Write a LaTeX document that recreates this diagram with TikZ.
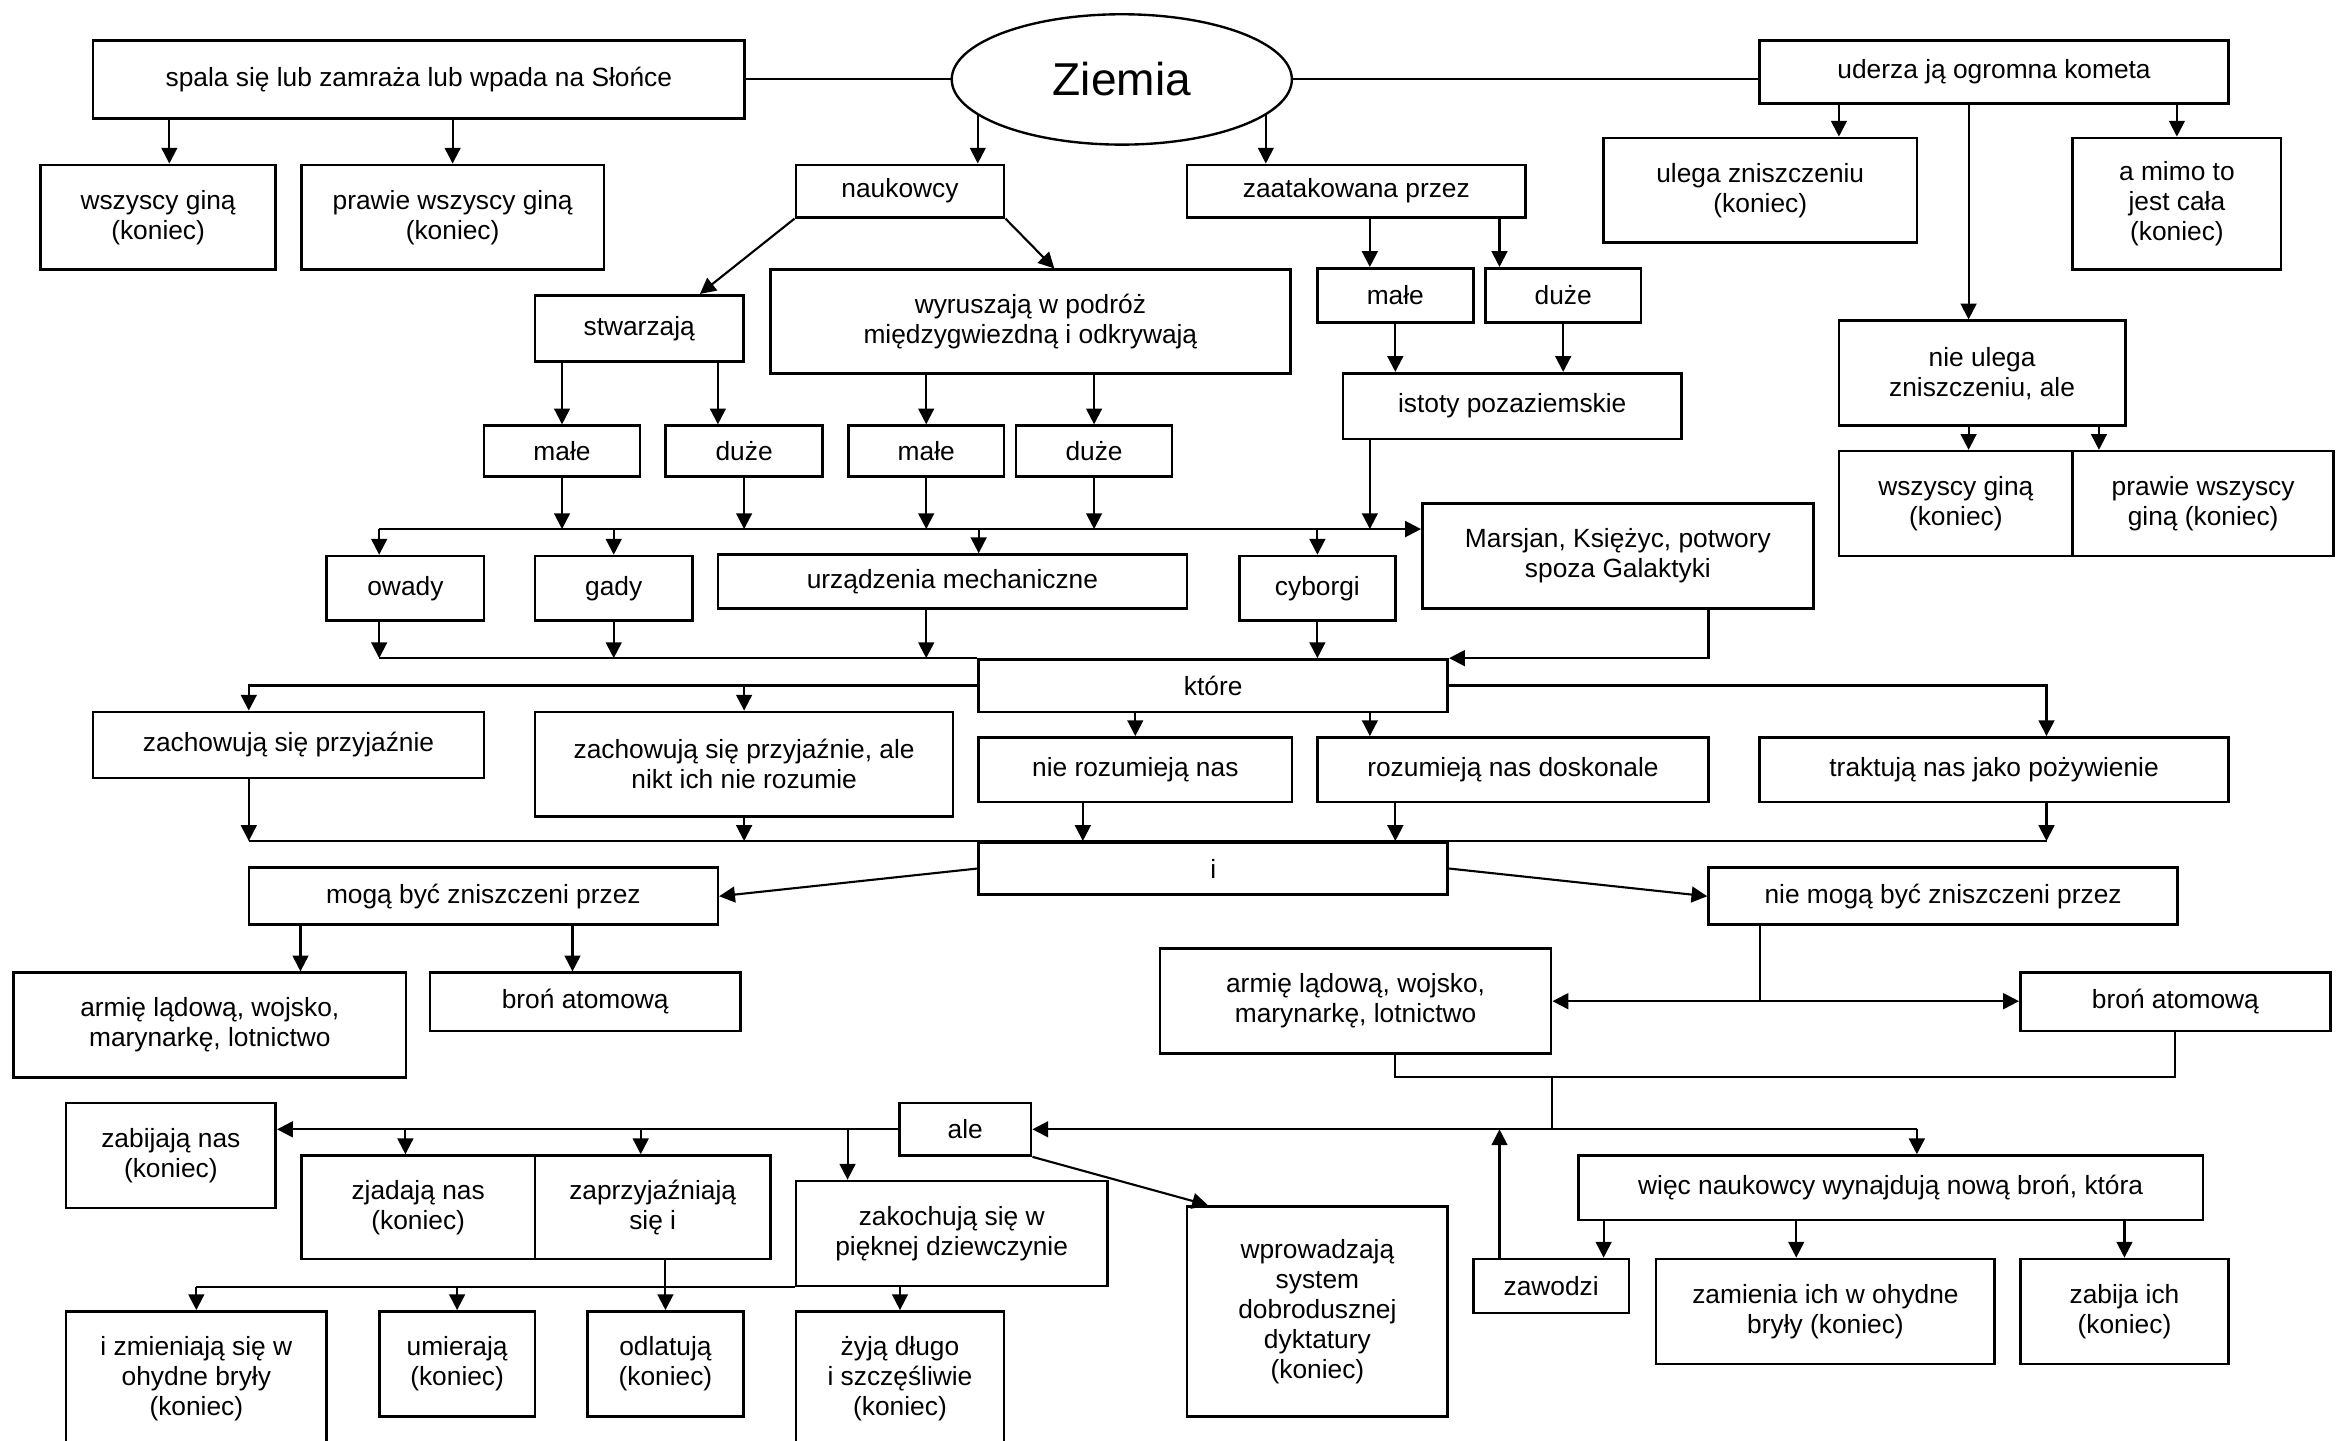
\documentclass[tikz,border=0pt]{standalone}
\usepackage{fontspec}
\setmainfont{Liberation Sans}
\usetikzlibrary{arrows.meta,shapes.geometric}

\begin{document}
\begin{tikzpicture}[x=0.02cm, y=-0.02cm, line width=0.8pt, >={Triangle[length=6pt,width=6pt]},
    every node/.style={font=\fontsize{10}{11.4}\selectfont},
    box/.style={draw, rectangle, line width=1pt, align=center, inner sep=1pt},
    bus/.style={line width=0.9pt}]
  \useasboundingbox (0,0) rectangle (1568,961);
  \clip (0,0) rectangle (1568,961);

  % top row
  \node[draw, ellipse, line width=0.9pt, minimum width=4.54cm, minimum height=1.74cm, font=\fontsize{17.5}{20}\selectfont] (ziemia) at (748.5,53) {Ziemia};
  \node[box, minimum width=8.7cm, minimum height=1.04cm] (spala) at (279.5,53) {spala się lub zamraża lub wpada na Słońce};
  \node[box, minimum width=6.26cm, minimum height=0.84cm] (uderza) at (1330.5,48) {uderza ją ogromna kometa};
  \node[box, minimum width=3.14cm, minimum height=1.4cm] (wszyscyL) at (105.5,145) {wszyscy giną\\(koniec)};
  \node[box, minimum width=4.04cm, minimum height=1.4cm] (prawieL) at (302,145) {prawie wszyscy giną\\(koniec)};
  \node[box, minimum width=2.78cm, minimum height=0.7cm] (naukowcy) at (600.5,127.5) {naukowcy};
  \node[box, minimum width=4.52cm, minimum height=0.7cm] (zaatak) at (905,127.5) {zaatakowana przez};
  \node[box, minimum width=4.18cm, minimum height=1.4cm] (ulega) at (1174.5,127) {ulega zniszczeniu\\(koniec)};
  \node[box, minimum width=2.78cm, minimum height=1.76cm] (mimo) at (1452.5,136) {a mimo to\\jest cała\\(koniec)};

  \node[box, minimum width=2.78cm, minimum height=0.88cm] (stwarzaja) at (426.5,219) {stwarzają};
  \node[box, minimum width=6.94cm, minimum height=1.38cm] (wyruszaja) at (687.5,214.5) {wyruszają w podróż\\międzygwiezdną i odkrywają};
  \node[box, minimum width=2.08cm, minimum height=0.72cm] (maleA) at (931,197) {małe};
  \node[box, minimum width=2.08cm, minimum height=0.72cm] (duzeA) at (1043,197) {duże};
  \node[box, minimum width=4.52cm, minimum height=0.88cm] (istoty) at (1009,271) {istoty pozaziemskie};
  \node[box, minimum width=3.82cm, minimum height=1.4cm] (nieulega) at (1322.5,249) {nie ulega\\zniszczeniu, ale};
  \node[box, minimum width=3.12cm, minimum height=1.4cm] (wszyscyR) at (1305,336) {wszyscy giną\\(koniec)};
  \node[box, minimum width=3.48cm, minimum height=1.4cm] (prawieR) at (1470,336) {prawie wszyscy\\giną (koniec)};

  \node[box, minimum width=2.08cm, minimum height=0.68cm] (maleS) at (375,301) {małe};
  \node[box, minimum width=2.1cm, minimum height=0.68cm] (duzeS) at (496.5,301) {duże};
  \node[box, minimum width=2.08cm, minimum height=0.68cm] (maleW) at (618,301) {małe};
  \node[box, minimum width=2.08cm, minimum height=0.68cm] (duzeW) at (730,301) {duże};

  \node[box, minimum width=2.1cm, minimum height=0.86cm] (owady) at (270.5,392.5) {owady};
  \node[box, minimum width=2.1cm, minimum height=0.86cm] (gady) at (409.5,392.5) {gady};
  \node[box, minimum width=6.26cm, minimum height=0.72cm] (urzadzenia) at (635.5,388) {urządzenia mechaniczne};
  \node[box, minimum width=2.08cm, minimum height=0.86cm] (cyborgi) at (879,392.5) {cyborgi};
  \node[box, minimum width=5.22cm, minimum height=1.4cm] (marsjan) at (1079.5,371) {Marsjan, Księżyc, potwory\\spoza Galaktyki};

  \node[box, minimum width=6.26cm, minimum height=0.7cm] (ktore) at (809.5,457.5) {które};
  \node[box, minimum width=5.22cm, minimum height=0.88cm] (przyjaznie) at (192.5,497) {zachowują się przyjaźnie};
  \node[box, minimum width=5.58cm, minimum height=1.4cm] (przyjaznieAle) at (496.5,510) {zachowują się przyjaźnie, ale\\nikt ich nie rozumie};
  \node[box, minimum width=4.18cm, minimum height=0.86cm] (nierozumieja) at (757.5,513.5) {nie rozumieją nas};
  \node[box, minimum width=5.22cm, minimum height=0.86cm] (rozumieja) at (1009.5,513.5) {rozumieją nas doskonale};
  \node[box, minimum width=6.26cm, minimum height=0.86cm] (traktuja) at (1330.5,513.5) {traktują nas jako pożywienie};

  \node[box, minimum width=6.26cm, minimum height=0.7cm] (iBox) at (809.5,579.5) {i};
  \node[box, minimum width=6.26cm, minimum height=0.76cm] (moga) at (322.5,598) {mogą być zniszczeni przez};
  \node[box, minimum width=6.26cm, minimum height=0.76cm] (niemoga) at (1296.5,598) {nie mogą być zniszczeni przez};
  \node[box, minimum width=5.24cm, minimum height=1.4cm] (armiaL) at (140,684) {armię lądową, wojsko,\\marynarkę, lotnictwo};
  \node[box, minimum width=4.14cm, minimum height=0.78cm] (bronL) at (390.5,668.5) {broń atomową};
  \node[box, minimum width=5.22cm, minimum height=1.4cm] (armiaR) at (904.5,668) {armię lądową, wojsko,\\marynarkę, lotnictwo};
  \node[box, minimum width=4.14cm, minimum height=0.78cm] (bronR) at (1451.5,668.5) {broń atomową};

  \node[box, minimum width=2.8cm, minimum height=1.4cm] (zabijaja) at (114,771) {zabijają nas\\(koniec)};
  \node[box, minimum width=1.76cm, minimum height=0.7cm] (ale) at (644,753.5) {ale};
  \node[box, minimum width=3.12cm, minimum height=1.38cm] (zjadaja) at (279,805.5) {zjadają nas\\(koniec)};
  \node[box, minimum width=3.14cm, minimum height=1.38cm] (zaprzyjaznia) at (435.5,805.5) {zaprzyjaźniają\\się i};
  \node[box, minimum width=4.16cm, minimum height=1.4cm] (zakochuja) at (635,823) {zakochują się w\\pięknej dziewczynie};
  \node[box, minimum width=3.48cm, minimum height=2.8cm] (wprowadzaja) at (879,875) {wprowadzają\\system\\dobrodusznej\\dyktatury\\(koniec)};
  \node[box, minimum width=8.34cm, minimum height=0.86cm] (wiec) at (1261.5,792.5) {więc naukowcy wynajdują nową broń, która};
  \node[box, minimum width=2.08cm, minimum height=0.72cm] (zawodzi) at (1035,858) {zawodzi};
  \node[box, minimum width=4.52cm, minimum height=1.4cm] (zamienia) at (1218,875) {zamienia ich w ohydne\\bryły (koniec)};
  \node[box, minimum width=2.78cm, minimum height=1.4cm] (zabija) at (1417.5,875) {zabija ich\\(koniec)};
  \node[box, minimum width=3.48cm, minimum height=1.8cm] (zmieniaja) at (131,920) {i zmieniają się w\\ohydne bryły\\(koniec)};
  \node[box, minimum width=2.08cm, minimum height=1.4cm] (umieraja) at (305,910) {umierają\\(koniec)};
  \node[box, minimum width=2.08cm, minimum height=1.4cm] (odlatuja) at (444,910) {odlatują\\(koniec)};
  \node[box, minimum width=2.78cm, minimum height=1.8cm] (zyja) at (600.5,920) {żyją długo\\i szczęśliwie\\(koniec)};

  % Ziemia and the first branches
  \draw (spala) -- (ziemia);
  \draw (ziemia.east) -- (ziemia.east -| uderza.west);
  \draw[->] ([xshift=0.15cm]spala.south -| wszyscyL.north) -- ([xshift=0.15cm]wszyscyL.north);
  \draw[->] (spala.south -| prawieL.north) -- (prawieL.north);
  \draw[->] (ziemia.194) -- (ziemia.194 |- naukowcy.north);
  \draw[->] (ziemia.346) -- (ziemia.346 |- zaatak.north);
  \draw[->] (naukowcy.south west) -- ([xshift=0.81cm]stwarzaja.north);
  \draw[->] (naukowcy.south east) -- ([xshift=0.32cm]wyruszaja.north);
  \draw[->] ([xshift=-0.34cm]maleA.north |- zaatak.south) -- ([xshift=-0.34cm]maleA.north);
  \draw[->] ([xshift=-0.85cm]duzeA.north |- zaatak.south) -- ([xshift=-0.85cm]duzeA.north);
  \draw[->] (maleA.south) -- (maleA.south |- istoty.north);
  \draw[->] (duzeA.south) -- (duzeA.south |- istoty.north);
  \draw[->] ([xshift=1.05cm]ulega.north |- uderza.south) -- ([xshift=1.05cm]ulega.north);
  \draw[->] (mimo.north |- uderza.south) -- (mimo.north);
  \draw[->] ([xshift=-0.18cm]nieulega.north |- uderza.south) -- ([xshift=-0.18cm]nieulega.north);
  \draw[->] ([xshift=-0.18cm]nieulega.south) -- ([xshift=-0.18cm]nieulega.south |- wszyscyR.north);
  \draw[->] ([xshift=1.56cm]nieulega.south) -- ([xshift=1.56cm]nieulega.south |- prawieR.north);
  \draw[->] (maleS.north |- stwarzaja.south) -- (maleS.north);
  \draw[->] ([xshift=-0.35cm]duzeS.north |- stwarzaja.south) -- ([xshift=-0.35cm]duzeS.north);
  \draw[->] (maleW.north |- wyruszaja.south) -- (maleW.north);
  \draw[->] (duzeW.north |- wyruszaja.south) -- (duzeW.north);

  % creatures
  \coordinate (busA) at (253,353);
  \draw[bus, ->] (busA) -- (busA -| marsjan.west);
  \draw[->] (maleS.south) -- (maleS.south |- busA);
  \draw[->] (duzeS.south) -- (duzeS.south |- busA);
  \draw[->] (maleW.south) -- (maleW.south |- busA);
  \draw[->] (duzeW.south) -- (duzeW.south |- busA);
  \draw[->] ([xshift=-1.9cm]istoty.south) -- ([xshift=-1.9cm]istoty.south |- busA);
  \draw[->] (busA) -- (busA |- owady.north);
  \draw[->] (gady.north |- busA) -- (gady.north);
  \draw[->] ([xshift=0.35cm]urzadzenia.north |- busA) -- ([xshift=0.35cm]urzadzenia.north);
  \draw[->] (cyborgi.north |- busA) -- (cyborgi.north);

  \draw[bus] ([xshift=-0.35cm]owady.south |- ktore.north) -- (ktore.north west);
  \draw[->] ([xshift=-0.35cm]owady.south) -- ([xshift=-0.35cm]owady.south |- ktore.north);
  \draw[->] (gady.south) -- (gady.south |- ktore.north);
  \draw[->] ([xshift=-0.35cm]urzadzenia.south) -- ([xshift=-0.35cm]urzadzenia.south |- ktore.north);
  \draw[->] (cyborgi.south) -- (cyborgi.south |- ktore.north);
  \draw[->] ([xshift=1.21cm]marsjan.south) |- (ktore.north east);

  % behaviour
  \draw[bus, ->] (ktore.west) -| ([xshift=-0.53cm]przyjaznie.north);
  \draw[->] (przyjaznieAle.north |- ktore.west) -- (przyjaznieAle.north);
  \draw[bus, ->] (ktore.east) -| ([xshift=0.7cm]traktuja.north);
  \draw[->] (nierozumieja.north |- ktore.south) -- (nierozumieja.north);
  \draw[->] ([xshift=-1.91cm]rozumieja.north |- ktore.south) -- ([xshift=-1.91cm]rozumieja.north);

  \draw[bus] ([xshift=-0.53cm]przyjaznie.south |- iBox.north) -- ([xshift=0.7cm]traktuja.south |- iBox.north);
  \draw[->] ([xshift=-0.53cm]przyjaznie.south) -- ([xshift=-0.53cm]przyjaznie.south |- iBox.north);
  \draw[->] (przyjaznieAle.south) -- (przyjaznieAle.south |- iBox.north);
  \draw[->] ([xshift=-0.7cm]nierozumieja.south) -- ([xshift=-0.7cm]nierozumieja.south |- iBox.north);
  \draw[->] ([xshift=-1.57cm]rozumieja.south) -- ([xshift=-1.57cm]rozumieja.south |- iBox.north);
  \draw[->] ([xshift=0.7cm]traktuja.south) -- ([xshift=0.7cm]traktuja.south |- iBox.north);

  % destruction
  \draw[->] (iBox.west) -- (moga.east);
  \draw[->] (iBox.east) -- (niemoga.west);
  \draw[->] ([xshift=1.21cm]armiaL.north |- moga.south) -- ([xshift=1.21cm]armiaL.north);
  \draw[->] ([xshift=-0.17cm]bronL.north |- moga.south) -- ([xshift=-0.17cm]bronL.north);
  \draw ([xshift=-2.45cm]niemoga.south) -- ([xshift=-2.45cm]niemoga.south |- armiaR.east);
  \draw[<->] (armiaR.east) -- (armiaR.east -| bronR.west);
  \coordinate (join) at (1035.4,718.6);
  \draw ([xshift=0.53cm]armiaR.south) |- (join) -| (bronR.south);
  \draw (join) -- (join |- ale.east);
  \draw[bus, ->] ([xshift=0.35cm]wiec.north |- ale.east) -- (ale.east);
  \draw[bus, ->] ([xshift=0.35cm]wiec.north |- ale.east) -- ([xshift=0.35cm]wiec.north);
  \draw[->] ([xshift=-0.69cm]zawodzi.north) -- ([xshift=-0.69cm]zawodzi.north |- ale.east);
  \draw[->] ([xshift=0.7cm]zawodzi.north |- wiec.south) -- ([xshift=0.7cm]zawodzi.north);
  \draw[->] ([xshift=-0.39cm]zamienia.north |- wiec.south) -- ([xshift=-0.39cm]zamienia.north);
  \draw[->] (zabija.north |- wiec.south) -- (zabija.north);

  % endings
  \draw[bus, ->] (ale.west) -- (ale.west -| zabijaja.east);
  \draw[->] ([xshift=-0.17cm]zjadaja.north |- ale.west) -- ([xshift=-0.17cm]zjadaja.north);
  \draw[->] ([xshift=-0.16cm]zaprzyjaznia.north |- ale.west) -- ([xshift=-0.16cm]zaprzyjaznia.north);
  \draw[->] ([xshift=-1.39cm]zakochuja.north |- ale.west) -- ([xshift=-1.39cm]zakochuja.north);
  \draw[->] (ale.south east) -- ([xshift=-1.46cm]wprowadzaja.north);
  \draw[bus] (zmieniaja.north |- zakochuja.south) -- (zakochuja.south west);
  \draw[->] (odlatuja.north |- zaprzyjaznia.south) -- (odlatuja.north);
  \draw[->] (zmieniaja.north |- zakochuja.south) -- (zmieniaja.north);
  \draw[->] (umieraja.north |- zakochuja.south) -- (umieraja.north);
  \draw[->] (zyja.north |- zakochuja.south) -- (zyja.north);
\end{tikzpicture}
\end{document}
